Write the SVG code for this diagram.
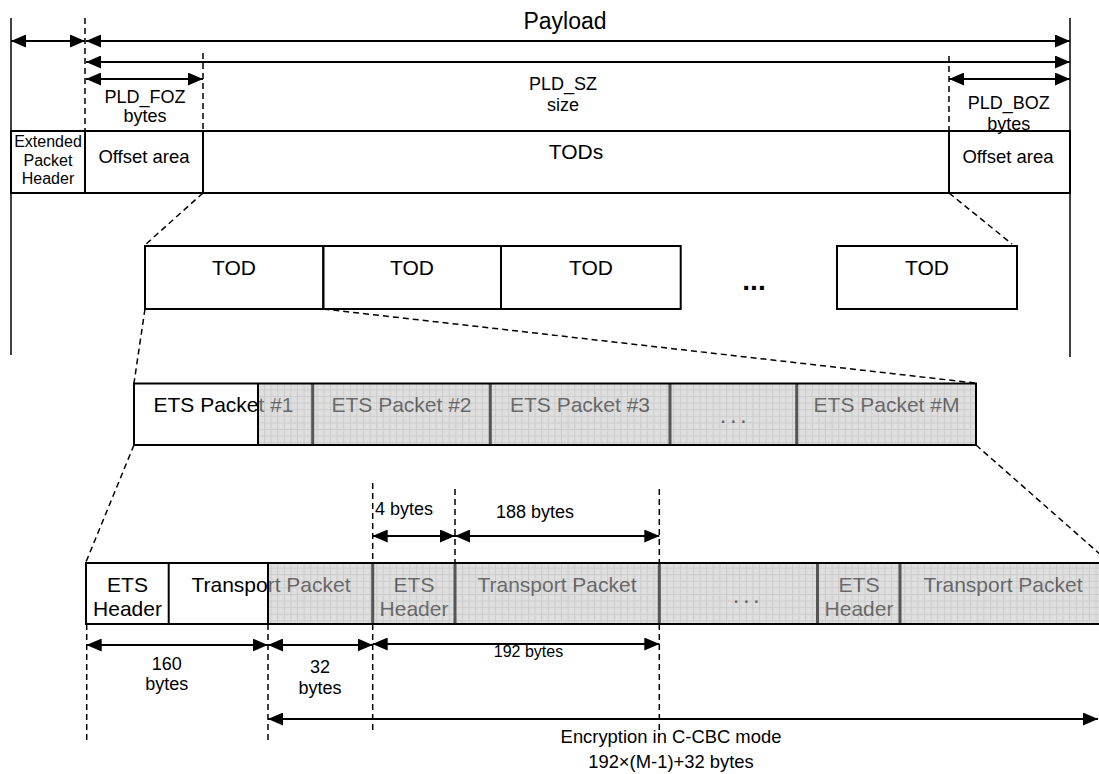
<svg xmlns="http://www.w3.org/2000/svg" width="1099" height="774" viewBox="0 0 1099 774">
  <defs>
    <style>
      .t { font-family: "Liberation Sans", Arial, Helvetica, sans-serif; fill: #000; }
      .mid { text-anchor: middle; }
      .outline { fill: none; stroke: #000; stroke-width: 2; }
      .edge { stroke: #000; stroke-width: 2; fill: none; }
      .rule { stroke: #000; stroke-width: 1.5; fill: none; }
      .dash { stroke: #000; stroke-width: 1.5; stroke-dasharray: 6 4; fill: none; }
      .arr { stroke: #000; stroke-width: 1.8; fill: none; marker-start: url(#ah); marker-end: url(#ah); }
      .enc { fill: url(#grid); opacity: 0.55; }
      .div { stroke: #555; stroke-width: 3; fill: none; }
    </style>
    <marker id="ah" markerUnits="userSpaceOnUse" viewBox="0 0 15 13" markerWidth="15" markerHeight="13" refX="15" refY="6.5" orient="auto-start-reverse">
      <path d="M0,0 L15,6.5 L0,13 z" fill="#000"/>
    </marker>
    <!-- light grid fill for the encrypted span -->
    <pattern id="grid" width="6.6" height="6.6" patternUnits="userSpaceOnUse">
      <rect width="6.6" height="6.6" fill="#c4c4c4"/>
      <path d="M0 0.5 H6.6 M0.5 0 V6.6" stroke="#a2a2a2" stroke-width="1"/>
    </pattern>
  </defs>

  <rect width="1099" height="774" fill="#fff"/>

  <!-- outer payload bounds -->
  <g id="bounds">
    <line class="rule" x1="11" y1="18" x2="11" y2="355"/>
    <line class="rule" x1="1070" y1="18" x2="1070" y2="357"/>
  </g>

  <!-- packet layout row -->
  <g id="packet-row">
    <rect x="11" y="131" width="1059" height="62" fill="#fff"/>
    <line class="edge" x1="85" y1="131" x2="85" y2="193"/>
    <line class="edge" x1="203" y1="131" x2="203" y2="193"/>
    <line class="edge" x1="949" y1="131" x2="949" y2="193"/>
    <rect class="outline" x="11" y="131" width="1059" height="62"/>
  </g>
  <g id="ext-header">
    <text class="t mid" x="48" y="147" font-size="16">Extended</text>
    <text class="t mid" x="48" y="166" font-size="16">Packet</text>
    <text class="t mid" x="48" y="184" font-size="16">Header</text>
  </g>
  <g id="offset-front">
    <text class="t mid" x="144" y="163" font-size="18.5">Offset area</text>
  </g>
  <g id="tods">
    <text class="t mid" x="576" y="159" font-size="21">TODs</text>
  </g>
  <g id="offset-back">
    <text class="t mid" x="1008" y="163" font-size="18.5">Offset area</text>
  </g>

  <!-- TOD row -->
  <g id="tod-1">
    <rect class="outline" x="145" y="246" width="178.3" height="63" fill="#fff"/>
    <text class="t mid" x="234" y="275" font-size="21">TOD</text>
  </g>
  <g id="tod-2">
    <rect class="outline" x="323.3" y="246" width="177.7" height="63"/>
    <text class="t mid" x="412" y="275" font-size="21">TOD</text>
  </g>
  <g id="tod-3">
    <rect class="outline" x="501" y="246" width="179.7" height="63"/>
    <text class="t mid" x="591" y="275" font-size="21">TOD</text>
  </g>
  <g id="tod-gap">
    <text class="t mid" x="754" y="290" font-size="28" font-weight="bold">...</text>
  </g>
  <g id="tod-n">
    <rect class="outline" x="837" y="246" width="180" height="63"/>
    <text class="t mid" x="927" y="275" font-size="21">TOD</text>
  </g>

  <!-- ETS packet row -->
  <g id="ets-row">
    <rect x="134" y="383.5" width="842" height="61.5" fill="#fff"/>
    <text class="t mid" x="223.5" y="412" font-size="21">ETS Packet #1</text>
    <text class="t mid" x="401.5" y="412" font-size="21">ETS Packet #2</text>
    <text class="t mid" x="580" y="412" font-size="21">ETS Packet #3</text>
    <text class="t mid" x="735" y="423" font-size="24" letter-spacing="3.5">...</text>
    <text class="t mid" x="886.5" y="412" font-size="21">ETS Packet #M</text>
    <rect class="enc" x="258" y="383.5" width="718" height="61.5"/>
    <line class="div" x1="312.7" y1="383.5" x2="312.7" y2="445"/>
    <line class="div" x1="490.3" y1="383.5" x2="490.3" y2="445"/>
    <line class="div" x1="670" y1="383.5" x2="670" y2="445"/>
    <line class="div" x1="796.7" y1="383.5" x2="796.7" y2="445"/>
    <line class="edge" x1="258" y1="383.5" x2="258" y2="445"/>
    <rect class="outline" x="134" y="383.5" width="842" height="61.5"/>
  </g>

  <!-- ETS packet detail row -->
  <g id="detail-row">
    <rect x="86" y="563" width="1024" height="61" fill="#fff"/>
    <text class="t mid" x="127.5" y="592" font-size="21">ETS</text>
    <text class="t mid" x="127.5" y="616" font-size="21">Header</text>
    <text class="t mid" x="271" y="592" font-size="21">Transport Packet</text>
    <text class="t mid" x="414" y="592" font-size="21">ETS</text>
    <text class="t mid" x="414" y="616" font-size="21">Header</text>
    <text class="t mid" x="557" y="592" font-size="21">Transport Packet</text>
    <text class="t mid" x="748" y="603" font-size="24" letter-spacing="3.5">...</text>
    <text class="t mid" x="859" y="592" font-size="21">ETS</text>
    <text class="t mid" x="859" y="616" font-size="21">Header</text>
    <text class="t mid" x="1003" y="592" font-size="21">Transport Packet</text>
    <rect class="enc" x="268" y="563" width="842" height="61"/>
    <line class="div" x1="372.7" y1="563" x2="372.7" y2="624"/>
    <line class="div" x1="455" y1="563" x2="455" y2="624"/>
    <line class="div" x1="659.3" y1="563" x2="659.3" y2="624"/>
    <line class="div" x1="817.5" y1="563" x2="817.5" y2="624"/>
    <line class="div" x1="900" y1="563" x2="900" y2="624"/>
    <line class="edge" x1="168.7" y1="563" x2="168.7" y2="624"/>
    <line class="edge" x1="268" y1="563" x2="268" y2="624"/>
    <rect class="outline" x="86" y="563" width="1024" height="61"/>
  </g>

  <!-- connectors: extent guides, zoom lines and dimension arrows -->
  <g id="connectors">
    <line class="dash" x1="85" y1="18" x2="85" y2="131"/>
    <line class="dash" x1="203" y1="53" x2="203" y2="131"/>
    <line class="dash" x1="949" y1="56" x2="949" y2="131"/>

    <line class="dash" x1="203" y1="193" x2="145" y2="245"/>
    <line class="dash" x1="949" y1="193" x2="1012" y2="244"/>
    <line class="dash" x1="145" y1="309" x2="134" y2="383"/>
    <line class="dash" x1="323.3" y1="309" x2="975" y2="383"/>
    <line class="dash" x1="134" y1="445" x2="86" y2="562"/>
    <line class="dash" x1="976" y1="445" x2="1110" y2="563"/>

    <line class="dash" x1="372.7" y1="483" x2="372.7" y2="563"/>
    <line class="dash" x1="455" y1="489" x2="455" y2="563"/>
    <line class="dash" x1="659.3" y1="489" x2="659.3" y2="563"/>
    <line class="dash" x1="86.7" y1="624" x2="86.7" y2="740"/>
    <line class="dash" x1="268" y1="624" x2="268" y2="740"/>
    <line class="dash" x1="372.7" y1="624" x2="372.7" y2="733"/>
    <line class="dash" x1="659.3" y1="624" x2="659.3" y2="737"/>

    <line class="arr" x1="11" y1="41" x2="85" y2="41"/>
    <line class="arr" x1="86" y1="41" x2="1070" y2="41"/>
    <line class="arr" x1="86" y1="62" x2="1070" y2="62"/>
    <line class="arr" x1="86" y1="79" x2="203" y2="79"/>
    <line class="arr" x1="949" y1="79" x2="1070" y2="79"/>

    <line class="arr" x1="372.7" y1="536" x2="455" y2="536"/>
    <line class="arr" x1="455" y1="536" x2="659.3" y2="536"/>

    <line class="arr" x1="86.7" y1="645" x2="267.7" y2="645"/>
    <line class="arr" x1="268" y1="645" x2="372.7" y2="645"/>
    <line class="arr" x1="372.7" y1="644" x2="659.3" y2="644"/>
    <line class="arr" x1="268" y1="719" x2="1098" y2="719"/>
  </g>

  <!-- dimension labels -->
  <g id="labels">
    <text class="t mid" x="565" y="29" font-size="23">Payload</text>
    <text class="t mid" x="563" y="90" font-size="18">PLD_SZ</text>
    <text class="t mid" x="563" y="111" font-size="18">size</text>
    <text class="t mid" x="145" y="103" font-size="18">PLD_FOZ</text>
    <text class="t mid" x="145" y="122" font-size="18">bytes</text>
    <text class="t mid" x="1008.7" y="109" font-size="18">PLD_BOZ</text>
    <text class="t mid" x="1008.7" y="130" font-size="18">bytes</text>

    <text class="t" x="375" y="515" font-size="18">4 bytes</text>
    <text class="t mid" x="535" y="518" font-size="18">188 bytes</text>

    <text class="t mid" x="166.7" y="670" font-size="18">160</text>
    <text class="t mid" x="166.7" y="690" font-size="18">bytes</text>
    <text class="t mid" x="320" y="673" font-size="18">32</text>
    <text class="t mid" x="320" y="694" font-size="18">bytes</text>
    <text class="t mid" x="528.5" y="657" font-size="16">192 bytes</text>

    <text class="t mid" x="671" y="743" font-size="18.4">Encryption in C-CBC mode</text>
    <text class="t mid" x="671" y="768" font-size="18.4">192×(M-1)+32 bytes</text>
  </g>
</svg>
